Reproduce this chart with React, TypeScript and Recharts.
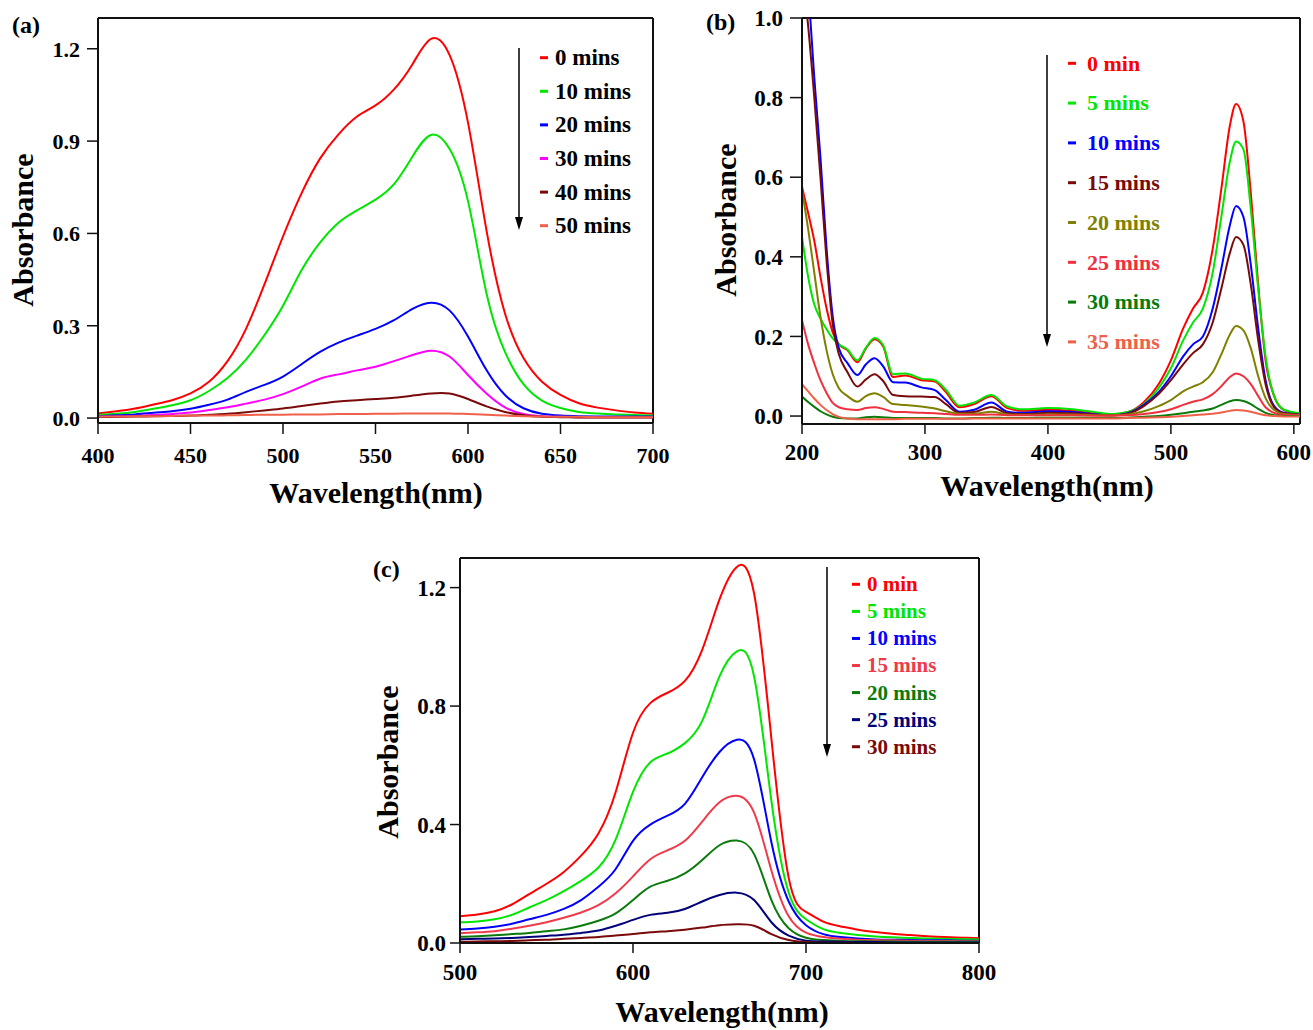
import { LineChart, Line, XAxis, YAxis, ReferenceLine } from 'recharts'

const FONT = '"Liberation Serif", "Times New Roman", serif'

// ---- panel (a) ----
const wlA = [400, 410, 420, 430, 440, 450, 460, 470, 480, 490, 500, 510, 520, 530, 540, 550, 560, 570, 580, 590, 600, 610, 620, 630, 640, 650, 660, 670, 680, 690, 700]
const namesA = ['0 mins', '10 mins', '20 mins', '30 mins', '40 mins', '50 mins']
const colorsA = ['#ff0000', '#00e600', '#0000ff', '#ff00ff', '#7a0a0a', '#f0604a']
const a0 = [0.015, 0.022, 0.031, 0.044, 0.058, 0.08, 0.118, 0.185, 0.29, 0.435, 0.59, 0.73, 0.843, 0.922, 0.98, 1.016, 1.068, 1.15, 1.232, 1.18, 0.96, 0.61, 0.34, 0.195, 0.118, 0.075, 0.048, 0.034, 0.025, 0.018, 0.014]
const a10 = [0.01, 0.014, 0.02, 0.03, 0.042, 0.058, 0.088, 0.13, 0.19, 0.27, 0.365, 0.48, 0.57, 0.635, 0.675, 0.71, 0.76, 0.85, 0.92, 0.875, 0.705, 0.405, 0.215, 0.11, 0.057, 0.033, 0.02, 0.015, 0.012, 0.01, 0.008]
const a20 = [0.006, 0.009, 0.012, 0.017, 0.022, 0.03, 0.043, 0.06, 0.085, 0.108, 0.135, 0.175, 0.215, 0.245, 0.268, 0.29, 0.318, 0.355, 0.375, 0.35, 0.265, 0.156, 0.075, 0.032, 0.014, 0.008, 0.006, 0.005, 0.005, 0.005, 0.005]
const a30 = [0.004, 0.005, 0.007, 0.01, 0.013, 0.018, 0.026, 0.035, 0.047, 0.06, 0.078, 0.102, 0.128, 0.142, 0.155, 0.167, 0.185, 0.205, 0.219, 0.2, 0.14, 0.08, 0.035, 0.013, 0.006, 0.004, 0.003, 0.003, 0.003, 0.003, 0.003]
const a40 = [0.004, 0.004, 0.005, 0.006, 0.007, 0.008, 0.011, 0.014, 0.019, 0.025, 0.031, 0.039, 0.047, 0.054, 0.058, 0.062, 0.066, 0.073, 0.08, 0.08, 0.062, 0.038, 0.02, 0.009, 0.004, 0.003, 0.002, 0.002, 0.002, 0.002, 0.002]
const a50 = [0.005, 0.005, 0.006, 0.006, 0.007, 0.008, 0.008, 0.009, 0.01, 0.011, 0.011, 0.012, 0.012, 0.013, 0.013, 0.014, 0.014, 0.015, 0.015, 0.015, 0.013, 0.011, 0.008, 0.006, 0.005, 0.004, 0.004, 0.003, 0.003, 0.003, 0.003]
const xTicksA = [400, 450, 500, 550, 600, 650, 700]
const yTicksA = [0, 0.3, 0.6, 0.9, 1.2]

// ---- panel (b) ----
const wlB = [200, 205, 210, 215, 220, 225, 230, 237, 245, 252, 259, 266, 274, 284, 297, 308, 317, 328, 340, 354, 367, 380, 400, 420, 440, 452, 465, 478, 490, 500, 510, 518, 526, 534, 541, 548, 553, 559, 565, 571, 577, 584, 592, 605]
const namesB = ['0 min', '5 mins', '10 mins', '15 mins', '20 mins', '25 mins', '30 mins', '35 mins']
const colorsB = ['#ff0000', '#00e600', '#0000ff', '#7a0a0a', '#808000', '#f0303c', '#0a7a0a', '#f06048']
const b0 = [0.576, 0.51, 0.44, 0.35, 0.27, 0.21, 0.18, 0.165, 0.135, 0.17, 0.193, 0.175, 0.098, 0.102, 0.09, 0.087, 0.06, 0.022, 0.03, 0.05, 0.02, 0.013, 0.016, 0.013, 0.006, 0.004, 0.01, 0.035, 0.08, 0.14, 0.22, 0.27, 0.31, 0.42, 0.57, 0.73, 0.784, 0.74, 0.56, 0.33, 0.14, 0.05, 0.015, 0.006]
const b5 = [0.45, 0.35, 0.28, 0.245, 0.218, 0.195, 0.18, 0.167, 0.14, 0.172, 0.196, 0.178, 0.105, 0.107, 0.094, 0.09, 0.066, 0.026, 0.034, 0.053, 0.024, 0.017, 0.02, 0.017, 0.009, 0.005, 0.01, 0.03, 0.07, 0.12, 0.19, 0.235, 0.27, 0.36, 0.5, 0.64, 0.69, 0.67, 0.52, 0.32, 0.15, 0.05, 0.016, 0.007]
const b10 = [1.3, 1.08, 0.85, 0.65, 0.42, 0.25, 0.17, 0.133, 0.103, 0.13, 0.145, 0.125, 0.085, 0.084, 0.072, 0.065, 0.04, 0.011, 0.016, 0.034, 0.011, 0.008, 0.012, 0.01, 0.004, 0.002, 0.007, 0.028, 0.06, 0.1, 0.15, 0.18, 0.2, 0.27, 0.37, 0.48, 0.528, 0.5, 0.38, 0.22, 0.09, 0.025, 0.008, 0.004]
const b15 = [1.12, 0.98, 0.8, 0.6, 0.39, 0.23, 0.155, 0.11, 0.074, 0.092, 0.105, 0.088, 0.053, 0.05, 0.049, 0.048, 0.03, 0.008, 0.01, 0.023, 0.007, 0.005, 0.008, 0.007, 0.003, 0.002, 0.006, 0.025, 0.055, 0.09, 0.13, 0.158, 0.18, 0.235, 0.32, 0.41, 0.45, 0.43, 0.33, 0.19, 0.08, 0.022, 0.007, 0.004]
const b20 = [0.568, 0.47, 0.36, 0.25, 0.165, 0.105, 0.07, 0.05, 0.036, 0.05, 0.057, 0.048, 0.03, 0.028, 0.024, 0.019, 0.012, 0.006, 0.006, 0.011, 0.004, 0.003, 0.004, 0.004, 0.002, 0.002, 0.004, 0.012, 0.025, 0.04, 0.062, 0.074, 0.085, 0.11, 0.155, 0.205, 0.226, 0.215, 0.17, 0.1, 0.045, 0.015, 0.005, 0.003]
const b25 = [0.241, 0.18, 0.132, 0.09, 0.058, 0.033, 0.022, 0.017, 0.015, 0.02, 0.022, 0.018, 0.011, 0.01, 0.008, 0.007, 0.005, 0.003, 0.003, 0.004, 0.002, 0.002, 0.002, 0.002, 0.001, 0.001, 0.002, 0.005, 0.01, 0.017, 0.028, 0.036, 0.042, 0.055, 0.075, 0.098, 0.107, 0.1, 0.08, 0.05, 0.022, 0.008, 0.003, 0.002]
const b30 = [0.049, 0.035, 0.023, 0.012, 0.004, -0.002, -0.005, -0.006, -0.006, -0.003, -0.002, -0.003, -0.005, -0.005, -0.005, -0.005, -0.006, -0.006, -0.005, -0.004, -0.005, -0.005, -0.004, -0.004, -0.005, -0.005, -0.004, -0.002, 0.0, 0.003, 0.007, 0.011, 0.014, 0.019, 0.028, 0.037, 0.04, 0.038, 0.03, 0.018, 0.008, 0.002, 0.0, 0.0]
const b35 = [0.08, 0.062, 0.044, 0.028, 0.015, 0.005, -0.002, -0.006, -0.008, -0.008, -0.008, -0.008, -0.008, -0.007, -0.007, -0.007, -0.007, -0.007, -0.006, -0.006, -0.006, -0.006, -0.006, -0.006, -0.006, -0.006, -0.005, -0.004, -0.003, -0.002, 0.0, 0.002, 0.004, 0.006, 0.009, 0.013, 0.015, 0.014, 0.011, 0.006, 0.002, 0.0, -0.001, -0.001]
const xTicksB = [200, 300, 400, 500, 600]
const yTicksB = [0, 0.2, 0.4, 0.6, 0.8, 1.0]

// ---- panel (c) ----
const wlC = [500, 510, 520, 530, 540, 550, 560, 570, 580, 590, 600, 610, 620, 630, 640, 650, 660, 670, 680, 690, 700, 710, 720, 730, 740, 750, 760, 770, 780, 790, 800]
const namesC = ['0 min', '5 mins', '10 mins', '15 mins', '20 mins', '25 mins', '30 mins']
const colorsC = ['#ff0000', '#00e600', '#0000ff', '#f03a4a', '#0a7a0a', '#00007a', '#7a0a0a']
const c0 = [0.09, 0.096, 0.107, 0.13, 0.165, 0.2, 0.24, 0.295, 0.37, 0.51, 0.71, 0.81, 0.845, 0.885, 0.99, 1.16, 1.27, 1.18, 0.69, 0.22, 0.105, 0.072, 0.056, 0.045, 0.037, 0.031, 0.027, 0.023, 0.02, 0.018, 0.016]
const c5 = [0.07, 0.073, 0.08, 0.095, 0.12, 0.145, 0.175, 0.21, 0.255, 0.35, 0.51, 0.61, 0.64, 0.675, 0.75, 0.9, 0.985, 0.9, 0.48, 0.17, 0.08, 0.047, 0.034, 0.027, 0.022, 0.019, 0.017, 0.015, 0.014, 0.013, 0.012]
const c10 = [0.046, 0.049, 0.055, 0.065, 0.08, 0.095, 0.115, 0.145, 0.19, 0.25, 0.345, 0.4, 0.43, 0.47, 0.56, 0.645, 0.686, 0.62, 0.34, 0.14, 0.06, 0.03, 0.02, 0.015, 0.012, 0.011, 0.01, 0.009, 0.009, 0.008, 0.008]
const c15 = [0.033, 0.036, 0.04, 0.048, 0.058, 0.07, 0.085, 0.103, 0.128, 0.168, 0.225, 0.283, 0.313, 0.345, 0.41, 0.475, 0.497, 0.44, 0.245, 0.09, 0.035, 0.02, 0.014, 0.011, 0.01, 0.009, 0.008, 0.007, 0.007, 0.006, 0.006]
const c20 = [0.021, 0.023, 0.026, 0.03, 0.034, 0.04, 0.046, 0.058, 0.075, 0.1, 0.145, 0.19, 0.21, 0.235, 0.28, 0.33, 0.346, 0.3, 0.145, 0.05, 0.018, 0.01, 0.007, 0.006, 0.005, 0.005, 0.004, 0.004, 0.004, 0.004, 0.004]
const c25 = [0.013, 0.014, 0.015, 0.017, 0.02, 0.024, 0.028, 0.034, 0.042, 0.058, 0.078, 0.095, 0.102, 0.115, 0.14, 0.162, 0.17, 0.145, 0.07, 0.025, 0.008, 0.005, 0.004, 0.003, 0.003, 0.002, 0.002, 0.002, 0.002, 0.002, 0.002]
const c30 = [0.004, 0.005, 0.006, 0.007, 0.009, 0.011, 0.014, 0.017, 0.02, 0.025, 0.03, 0.036, 0.04, 0.045, 0.052, 0.06, 0.063, 0.058, 0.03, 0.01, 0.003, 0.001, 0.001, 0, 0, 0, 0, 0, 0, 0, 0]
const xTicksC = [500, 600, 700, 800]
const yTicksC = [0, 0.4, 0.8, 1.2]

type Series = { key: string; name: string; color: string }
type Curve = 'monotone' | 'natural'

function makeSeries(names: string[], colors: string[]): Series[] {
  return names.map((n, i) => ({ key: 's' + i, name: n, color: colors[i] }))
}

function makeRows(wl: number[], cols: number[][]) {
  return wl.map((w, i) => {
    const row: Record<string, number> = { nm: w }
    cols.forEach((c, j) => { row['s' + j] = c[i] })
    return row
  })
}

interface PanelProps {
  left: number
  top: number
  width: number
  height: number
  margin: { top: number; right: number; bottom: number; left: number }
  yWidth: number
  xHeight: number
  rows: Record<string, number>[]
  series: Series[]
  curve: Curve
  xDomain: [number, number]
  yDomain: [number, number]
  xTicks: number[]
  yTicks: number[]
  xTick: { size: number; margin: number }
  yTick: { size: number; margin: number }
  tickFont: number
  tag: { text: string; x: number; y: number }
  yLabel: { x: number; y: number }
  xLabel: { x: number; y: number }
  legend: {
    arrowX: number
    arrowTop: number
    arrowBottom: number
    dashX: number
    textX: number
    y0: number
    gap: number
    font: number
    colored: boolean
  }
}

function Panel(p: PanelProps) {
  const tickStyle = { fill: '#000', fontSize: p.tickFont, fontWeight: 700, fontFamily: FONT }
  const lg = p.legend
  return (
    <div style={{ position: 'absolute', left: p.left, top: p.top }}>
      <LineChart width={p.width} height={p.height} data={p.rows} margin={p.margin}>
        <XAxis
          dataKey="nm"
          type="number"
          domain={p.xDomain}
          ticks={p.xTicks}
          allowDataOverflow
          height={p.xHeight}
          tick={tickStyle}
          tickSize={p.xTick.size}
          tickMargin={p.xTick.margin}
          axisLine={{ stroke: '#111', strokeWidth: 2 }}
          tickLine={{ stroke: '#111', strokeWidth: 1.5 }}
        />
        <YAxis
          type="number"
          domain={p.yDomain}
          ticks={p.yTicks}
          allowDataOverflow
          width={p.yWidth}
          tick={tickStyle}
          tickFormatter={(v: number) => v.toFixed(1)}
          tickSize={p.yTick.size}
          tickMargin={p.yTick.margin}
          axisLine={{ stroke: '#111', strokeWidth: 2 }}
          tickLine={{ stroke: '#111', strokeWidth: 1.5 }}
        />
        <ReferenceLine y={p.yDomain[1]} stroke="#111" strokeWidth={2} />
        <ReferenceLine x={p.xDomain[1]} stroke="#111" strokeWidth={2} />
        {p.series.map((s) => (
          <Line
            key={s.key}
            dataKey={s.key}
            name={s.name}
            type={p.curve}
            stroke={s.color}
            strokeWidth={2}
            dot={false}
            activeDot={false}
            isAnimationActive={false}
          />
        ))}
        <text x={p.tag.x} y={p.tag.y} fontFamily={FONT} fontWeight={700} fontSize={24} fill="#000">
          {p.tag.text}
        </text>
        <text
          x={p.yLabel.x}
          y={p.yLabel.y}
          transform={`rotate(-90, ${p.yLabel.x}, ${p.yLabel.y})`}
          textAnchor="middle"
          fontFamily={FONT}
          fontWeight={700}
          fontSize={30}
          fill="#000"
        >
          Absorbance
        </text>
        <text x={p.xLabel.x} y={p.xLabel.y} textAnchor="middle" fontFamily={FONT} fontWeight={700} fontSize={30} fill="#000">
          Wavelength(nm)
        </text>
        <line x1={lg.arrowX} y1={lg.arrowTop} x2={lg.arrowX} y2={lg.arrowBottom - 10} stroke="#000" strokeWidth={1.5} />
        <polygon
          points={`${lg.arrowX - 4},${lg.arrowBottom - 13} ${lg.arrowX + 4},${lg.arrowBottom - 13} ${lg.arrowX},${lg.arrowBottom}`}
          fill="#000"
        />
        {p.series.map((s, i) => {
          const cy = lg.y0 + i * lg.gap
          return (
            <g key={'lg' + s.key}>
              <rect x={lg.dashX} y={cy - 1.5} width={8} height={3} fill={s.color} />
              <text
                x={lg.textX}
                y={cy + lg.font * 0.33}
                fontFamily={FONT}
                fontWeight={700}
                fontSize={lg.font}
                fill={lg.colored ? s.color : '#000'}
              >
                {s.name}
              </text>
            </g>
          )
        })}
      </LineChart>
    </div>
  )
}

export default function App() {
  const seriesA = makeSeries(namesA, colorsA)
  const seriesB = makeSeries(namesB, colorsB)
  const seriesC = makeSeries(namesC, colorsC)
  const rowsA = makeRows(wlA, [a0, a10, a20, a30, a40, a50])
  const rowsB = makeRows(wlB, [b0, b5, b10, b15, b20, b25, b30, b35])
  const rowsC = makeRows(wlC, [c0, c5, c10, c15, c20, c25, c30])

  return (
    <div style={{ position: 'absolute', left: 0, top: 0, width: 1313, height: 1030, background: '#fff', overflow: 'hidden' }}>
      <Panel
        left={0}
        top={0}
        width={680}
        height={520}
        margin={{ top: 18, right: 27, bottom: 0, left: 0 }}
        yWidth={98}
        xHeight={97}
        rows={rowsA}
        series={seriesA}
        curve="natural"
        xDomain={[400, 700]}
        yDomain={[-0.016, 1.3]}
        xTicks={xTicksA}
        yTicks={yTicksA}
        xTick={{ size: 11, margin: 13 }}
        yTick={{ size: 11, margin: 7 }}
        tickFont={22}
        tag={{ text: '(a)', x: 12, y: 33 }}
        yLabel={{ x: 33, y: 230 }}
        xLabel={{ x: 376, y: 503 }}
        legend={{ arrowX: 519, arrowTop: 48, arrowBottom: 230, dashX: 540, textX: 555, y0: 57.7, gap: 33.6, font: 23, colored: false }}
      />
      <Panel
        left={700}
        top={0}
        width={613}
        height={520}
        margin={{ top: 18, right: 13, bottom: 0, left: 0 }}
        yWidth={102}
        xHeight={96}
        rows={rowsB}
        series={seriesB}
        curve="monotone"
        xDomain={[200, 605]}
        yDomain={[-0.02, 1.0]}
        xTicks={xTicksB}
        yTicks={yTicksB}
        xTick={{ size: 10, margin: 10 }}
        yTick={{ size: 12, margin: 7 }}
        tickFont={23}
        tag={{ text: '(b)', x: 6, y: 30 }}
        yLabel={{ x: 36, y: 220 }}
        xLabel={{ x: 347, y: 496 }}
        legend={{ arrowX: 347, arrowTop: 55, arrowBottom: 347, dashX: 368, textX: 387, y0: 63.3, gap: 39.8, font: 22, colored: true }}
      />
      <Panel
        left={360}
        top={530}
        width={660}
        height={500}
        margin={{ top: 28, right: 41, bottom: 0, left: 0 }}
        yWidth={100}
        xHeight={87}
        rows={rowsC}
        series={seriesC}
        curve="natural"
        xDomain={[500, 800]}
        yDomain={[0, 1.3]}
        xTicks={xTicksC}
        yTicks={yTicksC}
        xTick={{ size: 10, margin: 11 }}
        yTick={{ size: 10, margin: 4 }}
        tickFont={23}
        tag={{ text: '(c)', x: 13, y: 47 }}
        yLabel={{ x: 38, y: 232 }}
        xLabel={{ x: 362, y: 492 }}
        legend={{ arrowX: 467, arrowTop: 37, arrowBottom: 227, dashX: 492, textX: 507, y0: 54.3, gap: 27.07, font: 21, colored: true }}
      />
    </div>
  )
}
